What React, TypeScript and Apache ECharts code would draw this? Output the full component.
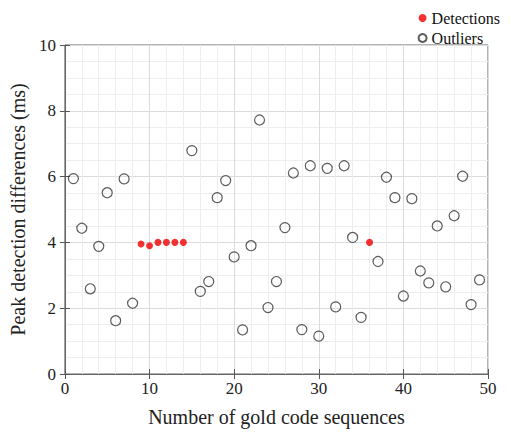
import React, { useEffect, useRef } from "react";
import * as echarts from "echarts";

const detectionX = [9, 10, 11, 12, 13, 14, 36];
const detectionY = [3.95, 3.9, 4.0, 4.0, 4.0, 4.0, 4.0];

const outlierX = [1, 2, 3, 4, 5, 6, 7, 8, 15, 16, 17, 18, 19, 20, 21, 22, 23, 24, 25, 26, 27, 28, 29, 30, 31, 32, 33, 34, 35, 37, 38, 39, 40, 41, 42, 43, 44, 45, 46, 47, 48, 49];
const outlierY = [5.94, 4.43, 2.59, 3.88, 5.51, 1.62, 5.93, 2.15, 6.79, 2.51, 2.81, 5.36, 5.88, 3.56, 1.34, 3.9, 7.72, 2.02, 2.81, 4.45, 6.11, 1.35, 6.33, 1.15, 6.25, 2.04, 6.33, 4.15, 1.72, 3.42, 5.98, 5.36, 2.37, 5.33, 3.13, 2.77, 4.5, 2.65, 4.81, 6.01, 2.11, 2.86];

const FONT = "Liberation Serif";

export default function App() {
  const ref = useRef<HTMLDivElement>(null);
  useEffect(() => {
    const chart = echarts.init(ref.current!, null, { renderer: "svg" });
    const tickStyle = { color: "#555", width: 1 };
    chart.setOption({
      animation: false,
      backgroundColor: "#fff",
      textStyle: { fontFamily: FONT },
      legend: {
        orient: "vertical",
        right: 6,
        top: 5,
        itemGap: 4,
        itemWidth: 8,
        itemHeight: 8,
        textStyle: { fontFamily: FONT, fontSize: 16, color: "#111" },
        data: [
          { name: "Detections", icon: "circle" },
          { name: "Outliers", icon: "circle" },
        ],
      },
      grid: { left: 60, right: 23, top: 45, bottom: 55, show: true, borderColor: "#666", borderWidth: 1 },
      xAxis: [
        {
          type: "value",
          min: 0,
          max: 50,
          interval: 10,
          name: "Number of gold code sequences",
          nameLocation: "middle",
          nameGap: 33,
          nameTextStyle: { fontFamily: FONT, fontSize: 20, color: "#222" },
          axisLine: { show: true, lineStyle: { color: "#666" } },
          axisTick: { show: true, inside: true, length: 5, lineStyle: tickStyle },
          axisLabel: { fontFamily: FONT, fontSize: 17, color: "#222", margin: 6 },
          splitLine: { show: true, lineStyle: { color: "#dcdcdc", width: 1 } },
          minorTick: { show: false, splitNumber: 5 },
          minorSplitLine: { show: true, lineStyle: { color: "#eeeeee", width: 1 } },
        },
        {
          type: "value",
          position: "top",
          min: 0,
          max: 50,
          interval: 10,
          axisLine: { show: false },
          axisTick: { show: true, inside: true, length: 5, lineStyle: tickStyle },
          axisLabel: { show: false },
          splitLine: { show: false },
        },
      ],
      yAxis: [
        {
          type: "value",
          min: 0,
          max: 10,
          interval: 2,
          name: "Peak detection differences (ms)",
          nameLocation: "middle",
          nameGap: 31,
          nameTextStyle: { fontFamily: FONT, fontSize: 20, color: "#222" },
          axisLine: { show: true, lineStyle: { color: "#666" } },
          axisTick: { show: true, inside: true, length: 5, lineStyle: tickStyle },
          axisLabel: { fontFamily: FONT, fontSize: 17, color: "#222", margin: 9 },
          splitLine: { show: true, lineStyle: { color: "#dcdcdc", width: 1 } },
          minorTick: { show: false, splitNumber: 4 },
          minorSplitLine: { show: true, lineStyle: { color: "#eeeeee", width: 1 } },
        },
        {
          type: "value",
          position: "right",
          min: 0,
          max: 10,
          interval: 2,
          axisLine: { show: false },
          axisTick: { show: true, inside: true, length: 5, lineStyle: tickStyle },
          axisLabel: { show: false },
          splitLine: { show: false },
        },
      ],
      series: [
        {
          name: "Detections",
          type: "scatter",
          symbol: "circle",
          symbolSize: 7,
          itemStyle: { color: "#ee0000" },
          data: detectionX.map((x, i) => [x, detectionY[i]]),
          z: 3,
        },
        {
          name: "Outliers",
          type: "scatter",
          symbol: "circle",
          symbolSize: 10,
          itemStyle: { color: "rgba(255,255,255,0)", borderColor: "#333", borderWidth: 1.2 },
          data: outlierX.map((x, i) => [x, outlierY[i]]),
          z: 2,
        },
      ],
    });
    return () => chart.dispose();
  }, []);
  return <div ref={ref} style={{ width: 511, height: 432, position: "absolute", left: 0, top: 0 }} />;
}
